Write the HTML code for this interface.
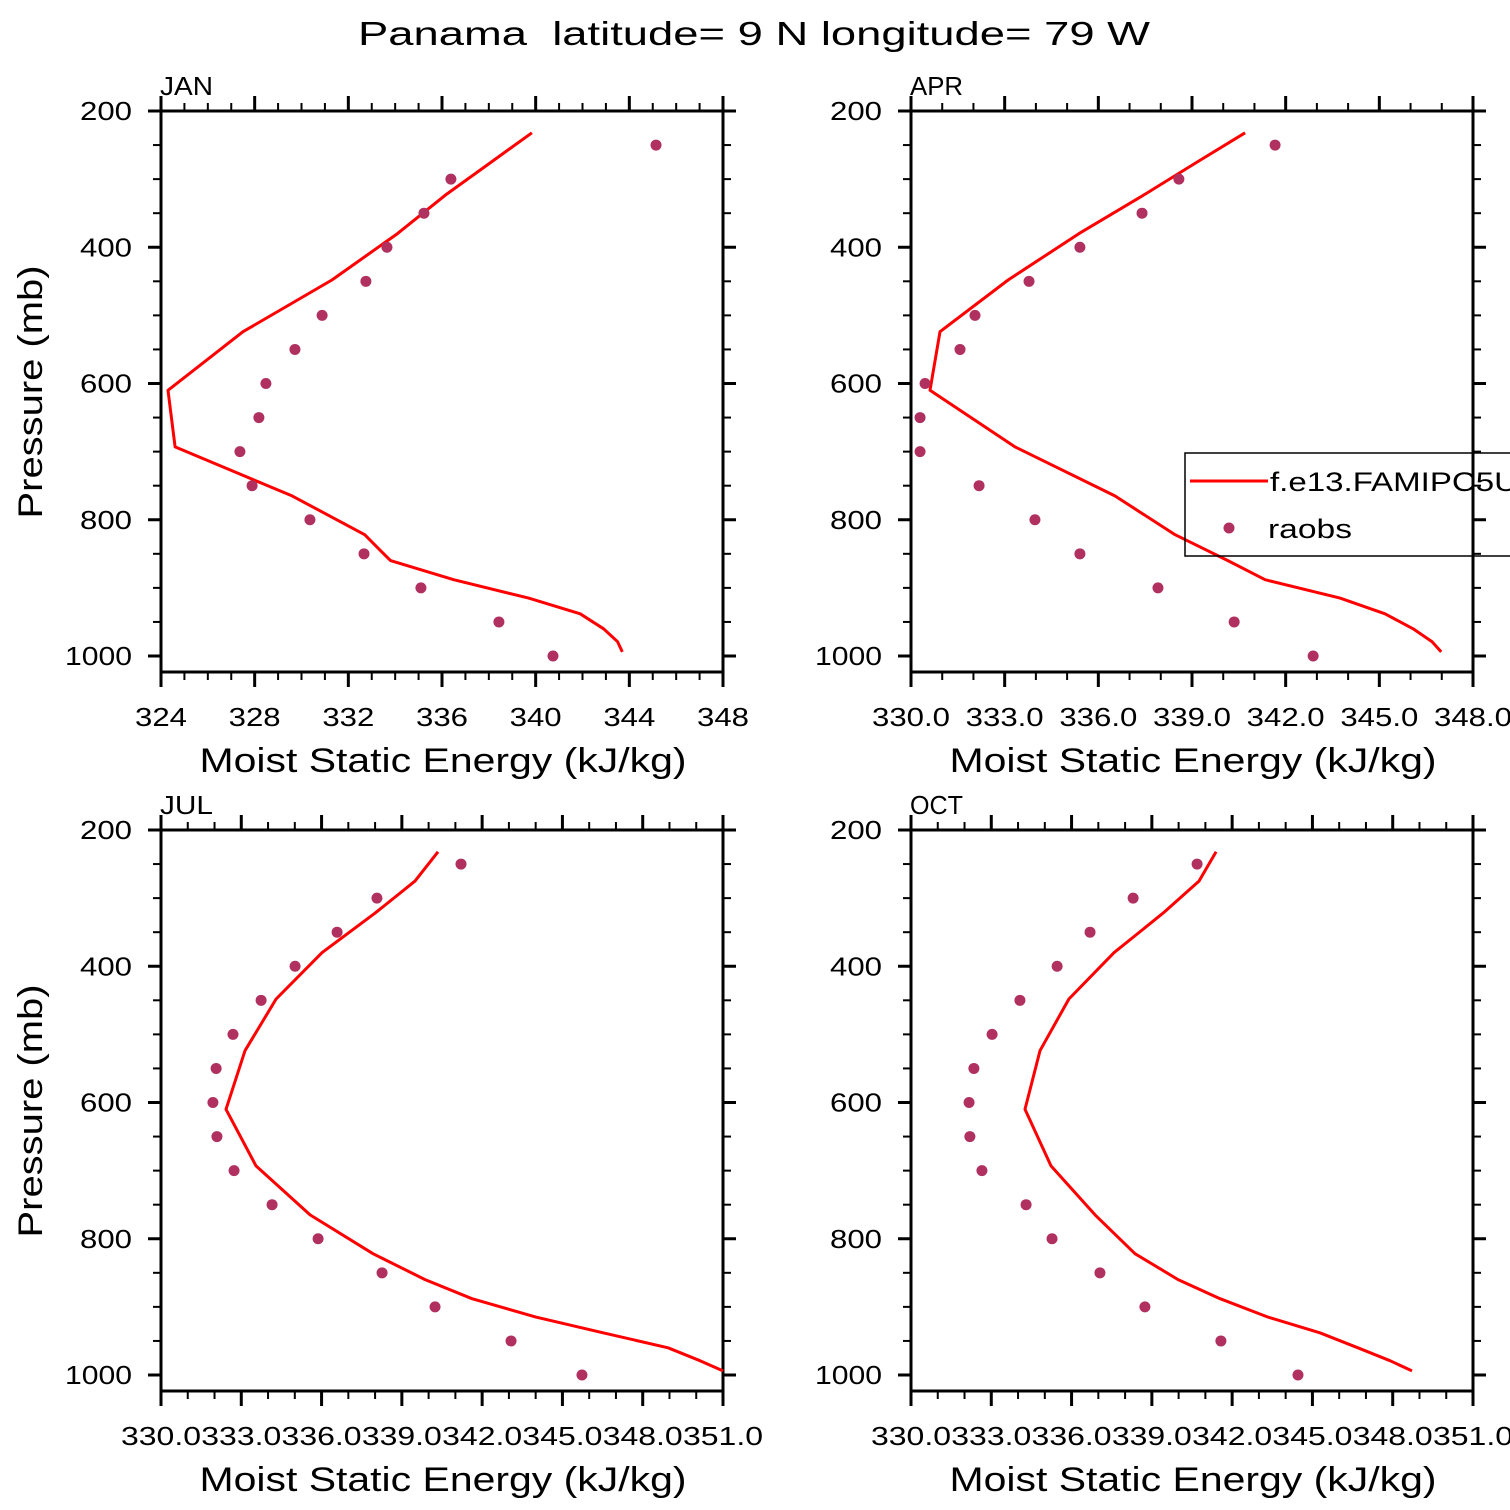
<!DOCTYPE html>
<html><head><meta charset="utf-8"><style>
html,body{margin:0;padding:0;background:#fff;}
svg{display:block;font-family:"Liberation Sans",sans-serif;}
</style></head><body>
<svg id="c" width="1510" height="1510" viewBox="0 0 1510 1510">
<text x="754" y="45" text-anchor="middle" font-size="33" fill="#000" textLength="792" lengthAdjust="spacingAndGlyphs" xml:space="preserve">Panama  latitude= 9 N longitude= 79 W</text>
</svg>
<script>
const modelP=[232,275,322,380,448,524,610,693,765,822,860,888,915,938,960,979,994];
const obsP=[250,300,350,400,450,500,550,600,650,700,750,800,850,900,950,1000];
const janModel=[339.84,338.1,336.2,334.1,331.3,327.5,324.3,324.6,329.6,332.7,333.8,336.5,339.7,341.9,342.9,343.5,343.7];
const janObs=[345.14,336.38,335.23,333.65,332.75,330.88,329.72,328.48,328.18,327.37,327.89,330.36,332.67,335.10,338.43,340.74];
const aprModel=[340.70,339.16,337.50,335.38,333.11,330.93,330.61,333.33,336.53,338.46,340.15,341.34,343.74,345.18,346.08,346.69,346.98];
const aprObs=[341.66,338.58,337.40,335.41,333.78,332.05,331.57,330.45,330.29,330.29,332.18,333.97,335.41,337.91,340.35,342.88];
const julModel=[340.35,339.49,338.00,336.02,334.30,333.14,332.43,333.55,335.57,337.92,339.87,341.62,344.01,346.52,348.95,350.14,351.0];
const julObs=[341.21,338.07,336.58,335.01,333.74,332.69,332.06,331.94,332.09,332.73,334.15,335.87,338.26,340.24,343.08,345.73];
const octModel=[341.40,340.76,339.42,337.59,335.90,334.82,334.26,335.23,336.88,338.37,339.98,341.55,343.34,345.28,346.70,347.9,348.72];
const octObs=[340.69,338.30,336.69,335.46,334.07,333.03,332.35,332.17,332.20,332.65,334.30,335.27,337.06,338.74,341.58,344.46];
const janTicks=['324','328','332','336','340','344','348'];
const aprTicks=['330.0','333.0','336.0','339.0','342.0','345.0','348.0'];
const julTicks=['330.0','333.0','336.0','339.0','342.0','345.0','348.0','351.0'];
const octTicks=['330.0','333.0','336.0','339.0','342.0','345.0','348.0','351.0'];
const pTicks=[200,400,600,800,1000];

const NS='http://www.w3.org/2000/svg';
const svg=document.getElementById('c');
function mk(tag,attrs,parent){const e=document.createElementNS(NS,tag);for(const k in attrs)e.setAttribute(k,attrs[k]);(parent||svg).appendChild(e);return e;}

function panel(cfg){
  const g=mk('g',{});
  
  
  const L=cfg.x0,R=cfg.x0+562,T=cfg.y0,B=cfg.y0+561;
  const xs=v=>L+(v-cfg.xmin)/(cfg.xmax-cfg.xmin)*562;
  const ys=p=>T+(p-200)*0.68125;
  for(let p=250;p<=1000;p+=50){
    const maj=p%200===0;const len=maj?13:8;
    mk('line',{x1:L-len,y1:ys(p),x2:L,y2:ys(p),stroke:'#000','stroke-width':maj?3:2},g);
    mk('line',{x1:R,y1:ys(p),x2:R+len,y2:ys(p),stroke:'#000','stroke-width':maj?3:2},g);
  }
  mk('line',{x1:L-13,y1:T,x2:L,y2:T,stroke:'#000','stroke-width':3},g);
  mk('line',{x1:R,y1:T,x2:R+13,y2:T,stroke:'#000','stroke-width':3},g);
  for(let v=cfg.xmin;v<=cfg.xmax+1e-6;v+=1){
    const maj=Math.abs(((v-cfg.xmin)/cfg.major)-Math.round((v-cfg.xmin)/cfg.major))<1e-6;
    const len=maj?15:8;
    mk('line',{x1:xs(v),y1:B,x2:xs(v),y2:B+len,stroke:'#000','stroke-width':maj?3:2},g);
    mk('line',{x1:xs(v),y1:T,x2:xs(v),y2:T-len,stroke:'#000','stroke-width':maj?3:2},g);
  }
  mk('rect',{x:L,y:T,width:562,height:B-T,fill:'none',stroke:'#000','stroke-width':3},g);
  pTicks.forEach(p=>{const s=String(p);const t=mk('text',{x:L-29,y:ys(p)+9,'text-anchor':'end','font-size':26,textLength:s.length===4?67:52,lengthAdjust:'spacingAndGlyphs'},g);t.textContent=s;
    
    });
  cfg.ticks.forEach((s,i)=>{const t=mk('text',{x:xs(cfg.xmin+i*cfg.major),y:B+54,'text-anchor':'middle','font-size':26,textLength:s.length===3?52:cfg.lw,lengthAdjust:'spacingAndGlyphs'},g);t.textContent=s;
    
    });
  const xt=mk('text',{x:L+282,y:B+100,'text-anchor':'middle','font-size':34,textLength:487,lengthAdjust:'spacingAndGlyphs'},g);xt.textContent='Moist Static Energy (kJ/kg)';
  
  
  const mt=mk('text',{x:L-1,y:T-16,'font-size':26,textLength:53,lengthAdjust:'spacingAndGlyphs'},g);mt.textContent=cfg.label;
  
  
  if(cfg.ylab){const yt=mk('text',{x:0,y:0,'text-anchor':'middle','font-size':34,textLength:253,lengthAdjust:'spacingAndGlyphs',transform:`translate(42,${T+281}) rotate(-90)`},g);yt.textContent='Pressure (mb)';
    
    }
  const pts=cfg.model.map((v,i)=>xs(v).toFixed(1)+','+ys(modelP[i]).toFixed(1)).join(' ');
  const pl=mk('polyline',{points:pts,fill:'none',stroke:'#ff0000','stroke-width':3,'stroke-linejoin':'round'},g);
  
  
  cfg.obs.forEach((v,i)=>{const c=mk('circle',{cx:xs(v),cy:ys(obsP[i]),r:5.5,fill:'#b03060'},g);
    
    });
}
panel({name:'jan',label:'JAN',x0:161,y0:111,xmin:324,xmax:348,major:4,ticks:janTicks,model:janModel,obs:janObs,ylab:true,lw:52});
panel({name:'apr',label:'APR',x0:911,y0:111,xmin:330,xmax:348,major:3,ticks:aprTicks,model:aprModel,obs:aprObs,lw:78});
panel({name:'jul',label:'JUL',x0:161,y0:830,xmin:330,xmax:351,major:3,ticks:julTicks,model:julModel,obs:julObs,ylab:true,lw:80});
panel({name:'oct',label:'OCT',x0:911,y0:830,xmin:330,xmax:351,major:3,ticks:octTicks,model:octModel,obs:octObs,lw:80});
const lg=mk('g',{});


mk('rect',{x:1185,y:453,width:340,height:103,fill:'none',stroke:'#000','stroke-width':1.5},lg);
const ll=mk('line',{x1:1190,y1:481,x2:1268,y2:481,stroke:'#ff0000','stroke-width':3},lg);


const t1=mk('text',{x:1270,y:491,'font-size':27,textLength:248,lengthAdjust:'spacingAndGlyphs'},lg);t1.textContent='f.e13.FAMIPC5U';


const lc=mk('circle',{cx:1229,cy:528,r:5.5,fill:'#b03060'},lg);


const t2=mk('text',{x:1268,y:538,'font-size':27,textLength:84,lengthAdjust:'spacingAndGlyphs'},lg);t2.textContent='raobs';


</script>
</body></html>
